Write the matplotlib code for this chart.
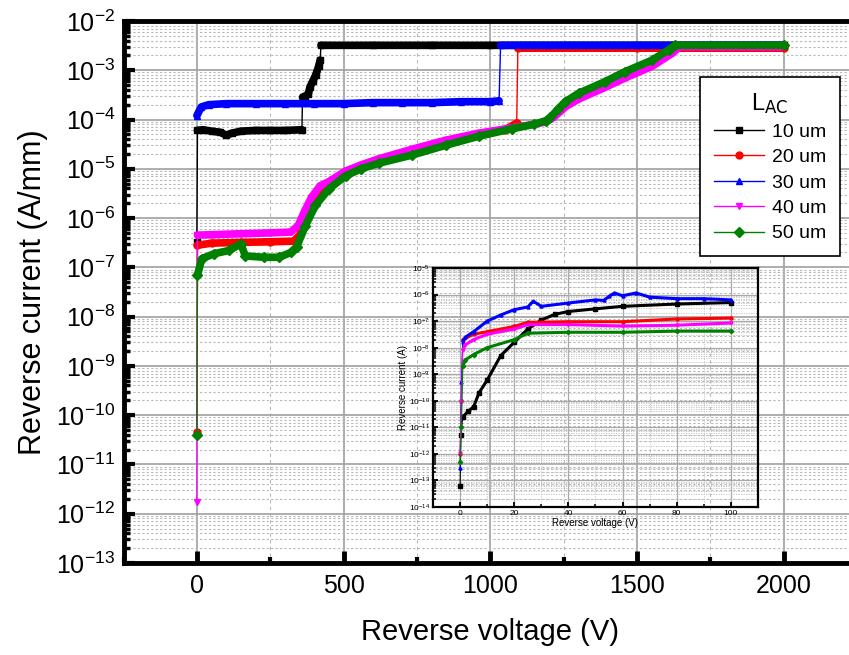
import numpy as np
import matplotlib
matplotlib.use('Agg')
import matplotlib.pyplot as plt
from matplotlib.ticker import LogLocator, MultipleLocator, NullFormatter

plt.rcParams['font.family'] = ['Liberation Sans', 'DejaVu Sans']
plt.rcParams['mathtext.default'] = 'regular'

# ---------------- main plot data (V, A/mm) ----------------
v_10 = [0, 2, 20, 50, 80, 100, 120, 150, 200, 250, 300, 358, 360, 370, 380, 385,
        395, 405, 415, 420, 423, 600, 800, 1000, 1500, 2000]
i_10 = [3.2e-7, 6e-5, 6.2e-5, 5.8e-5, 5.5e-5, 4.8e-5, 5.3e-5, 5.8e-5, 6e-5, 6e-5, 6e-5, 6.2e-5,
        2.8e-4, 3.0e-4, 3.3e-4, 4.5e-4, 6e-4, 8e-4, 1.2e-3, 1.6e-3, 3.2e-3, 3.2e-3,
        3.2e-3, 3.2e-3, 3.2e-3, 3.2e-3]

v_20 = [0, 2, 50, 150, 250, 330, 350, 370, 404, 450, 507, 560, 621, 734, 848, 962,
        1050, 1090, 1094, 1500, 2000]
i_20 = [4.5e-11, 2.8e-7, 3.1e-7, 3.2e-7, 3.3e-7, 3.4e-7, 4.5e-7, 9e-7, 2.1e-6, 4.3e-6, 8e-6,
        1.1e-5, 1.4e-5, 2e-5, 3.1e-5, 4.7e-5, 6.2e-5, 8.5e-5, 2.8e-3, 2.8e-3, 2.8e-3]

v_30 = [0, 15, 40, 100, 200, 300, 400, 500, 600, 700, 800, 900, 1000, 1030, 1035,
        1200, 1500, 1800, 2000]
i_30 = [1.2e-4, 1.8e-4, 2.0e-4, 2.1e-4, 2.1e-4, 2.1e-4, 2.1e-4, 2.1e-4, 2.2e-4, 2.2e-4,
        2.2e-4, 2.3e-4, 2.3e-4, 2.4e-4, 3.2e-3, 3.2e-3, 3.2e-3, 3.2e-3, 3.2e-3]

v_40 = [0, 2, 50, 150, 250, 320, 345, 365, 390, 420, 450, 507, 560, 621, 734, 848, 962,
        1075, 1150, 1190, 1216, 1256, 1301, 1392, 1460, 1551, 1620, 1645, 2000]
i_40 = [1.7e-12, 4.5e-7, 4.6e-7, 4.8e-7, 5e-7, 5.2e-7, 7e-7, 1.3e-6, 2.6e-6, 4.5e-6, 5.5e-6,
        9e-6, 1.2e-5, 1.6e-5, 2.5e-5, 3.8e-5, 5.3e-5, 6.8e-5, 8e-5, 9e-5, 1.1e-4, 1.8e-4,
        2.6e-4, 4.5e-4, 7e-4, 1.2e-3, 2.2e-3, 3.0e-3, 3.0e-3]

v_50 = [0, 2, 17, 60, 110, 150, 165, 230, 280, 320, 340, 370, 404, 450, 507, 560, 621,
        734, 848, 962, 1075, 1150, 1190, 1205, 1230, 1256, 1301, 1392, 1460, 1551, 1608, 1630, 2000]
i_50 = [4e-11, 7e-8, 1.5e-7, 1.9e-7, 2.2e-7, 3e-7, 1.7e-7, 1.6e-7, 1.6e-7, 2e-7, 2.6e-7,
        7e-7, 1.8e-6, 3.9e-6, 7.2e-6, 1e-5, 1.3e-5, 1.9e-5, 3e-5, 4.6e-5, 6.5e-5, 8e-5,
        9.5e-5, 1.1e-4, 1.6e-4, 2.3e-4, 3.4e-4, 5.9e-4, 9.4e-4, 1.6e-3, 2.6e-3, 3.2e-3, 3.2e-3]

# ---------------- inset data (V, A) ----------------
vi_10 = [0, 0.3, 1, 3, 5, 7, 10, 15, 20, 25, 30, 35, 40, 50, 60, 80, 100]
ii_10 = [6e-14, 5e-12, 2.5e-11, 4e-11, 6e-11, 2e-10, 6e-10, 5e-9, 1.6e-8, 5e-8, 1.1e-7,
         1.8e-7, 2.3e-7, 2.9e-7, 3.6e-7, 4.4e-7, 5e-7]
vi_20 = [0, 0.5, 1, 5, 10, 20, 25, 40, 60, 80, 100]
ii_20 = [1e-12, 1e-10, 2e-8, 3.2e-8, 4e-8, 6.3e-8, 9e-8, 9.5e-8, 9.5e-8, 1.2e-7, 1.3e-7]
vi_30 = [0, 0.5, 1, 2, 5, 10, 15, 20, 25, 27, 30, 40, 50, 53, 55, 57, 60, 65, 70, 80, 90, 100]
ii_30 = [3e-13, 5e-10, 1.7e-8, 2.5e-8, 4e-8, 1e-7, 1.7e-7, 2.7e-7, 3.4e-7, 5.6e-7, 3.6e-7,
         4.8e-7, 6.3e-7, 6e-7, 8.5e-7, 1.15e-6, 9e-7, 1.15e-6, 8e-7, 7e-7, 7e-7, 6.3e-7]
vi_40 = [0, 0.5, 1, 2, 5, 10, 20, 25, 40, 60, 80, 100]
ii_40 = [1.1e-12, 1e-10, 8.5e-9, 1.3e-8, 2e-8, 3.2e-8, 5e-8, 7.4e-8, 7.4e-8, 6.5e-8, 7e-8, 8.5e-8]
vi_50 = [0, 0.5, 1, 2, 5, 10, 20, 25, 40, 60, 80, 100]
ii_50 = [5e-13, 1e-11, 2e-9, 3.5e-9, 5.5e-9, 1e-8, 2e-8, 3.5e-8, 3.8e-8, 3.8e-8, 4.2e-8, 4.2e-8]

labels = ['10 um', '20 um', '30 um', '40 um', '50 um']
colors = ['black', 'red', 'blue', 'magenta', 'green']
markers = ['s', 'o', '^', 'v', 'D']
main_v = [v_10, v_20, v_30, v_40, v_50]
main_i = [i_10, i_20, i_30, i_40, i_50]
ins_v = [vi_10, vi_20, vi_30, vi_40, vi_50]
ins_i = [ii_10, ii_20, ii_30, ii_40, ii_50]


def band(v, i, slope=0.05, min_dv=2):
    # thick trace (dense markers) along slowly varying parts, break at jumps
    v = np.asarray(v, float)
    i = np.asarray(i, float)
    xs, ys = [v[0]], [i[0]]
    for k in range(1, len(v)):
        dv = v[k] - v[k - 1]
        dl = abs(np.log10(i[k] / i[k - 1]))
        if dv < min_dv or dl / dv > slope:
            xs.append(np.nan)
            ys.append(np.nan)
        xs.append(v[k])
        ys.append(i[k])
    return xs, ys


fig = plt.figure(figsize=(8.49, 6.55), dpi=100)
ax = fig.add_axes([0.1455, 0.1405, 0.864, 0.8275])
ax.set_yscale('log')

for v, i, c, m, lab in zip(main_v, main_i, colors, markers, labels):
    ax.plot(v, i, color=c, lw=1.0, marker=m, ms=5, label=lab, zorder=3)
    bx, by = band(v, i)
    ax.plot(bx, by, color=c, lw=5.5, solid_capstyle='round', zorder=3)

ax.set_xlim(-250, 2250)
ax.set_ylim(1e-13, 1e-2)
ax.xaxis.set_major_locator(MultipleLocator(500))
ax.xaxis.set_minor_locator(MultipleLocator(250))
ax.yaxis.set_major_locator(LogLocator(base=10, numticks=20))
ax.yaxis.set_minor_locator(LogLocator(base=10, subs=np.arange(2, 10), numticks=20))
ax.yaxis.set_minor_formatter(NullFormatter())

ax.grid(True, which='major', color='#a0a0a0', lw=1.2, ls='-', zorder=0)
ax.grid(True, which='minor', axis='y', color='#b8b8b8', lw=0.8, ls=(0, (2, 2)), zorder=0)
ax.grid(True, which='minor', axis='x', color='#b8b8b8', lw=0.8, ls=(0, (3, 3)), zorder=0)
ax.set_axisbelow(True)

ax.tick_params(axis='both', which='major', direction='in', labelsize=18)
ax.tick_params(axis='y', which='major', length=8, width=3, pad=6)
ax.tick_params(axis='y', which='minor', direction='in', length=4, width=2.5)
ax.tick_params(axis='x', which='major', length=9, width=3.5, pad=8)
ax.tick_params(axis='x', which='minor', direction='in', length=4, width=3)
for side in ['left', 'bottom', 'top']:
    ax.spines[side].set_linewidth(3.5)
ax.spines['right'].set_visible(False)

ax.set_xlabel('Reverse voltage (V)', fontsize=21, labelpad=14)
ax.set_ylabel('Reverse current (A/mm)', fontsize=22, labelpad=6)

leg = ax.legend(loc='upper left', bbox_to_anchor=(700 / 849, 1 - 77 / 655),
                bbox_transform=fig.transFigure, borderaxespad=0,
                title=r'L$_{\mathrm{AC}}$',
                fontsize=14, title_fontsize=17, fancybox=False, framealpha=1,
                edgecolor='black', handlelength=2.6, borderpad=0.7,
                labelspacing=0.4, handletextpad=0.4)
leg.get_frame().set_linewidth(1.2)

# ---------------- inset ----------------
axi = fig.add_axes([433 / 849, 1 - 507 / 655, 325 / 849, 239 / 655])
axi.set_facecolor('none')
axi.set_yscale('log')
for v, i, c, m in zip(ins_v, ins_i, colors, markers):
    axi.plot(v, i, color=c, lw=0.8, marker=m, ms=2.2, zorder=3)
    bx, by = band(v, i, slope=0.5, min_dv=0)
    axi.plot(bx, by, color=c, lw=2.2, solid_capstyle='round', zorder=3)

axi.set_xlim(-10, 110)
axi.set_ylim(1e-14, 1e-5)
axi.xaxis.set_major_locator(MultipleLocator(20))
axi.xaxis.set_minor_locator(MultipleLocator(10))
axi.yaxis.set_major_locator(LogLocator(base=10, numticks=20))
axi.yaxis.set_minor_locator(LogLocator(base=10, subs=np.arange(2, 10), numticks=20))
axi.yaxis.set_minor_formatter(NullFormatter())
axi.grid(True, which='major', color='#a8a8a8', lw=0.9, ls='-', zorder=0)
axi.grid(True, which='minor', color='#c0c0c0', lw=0.6, ls=(0, (1.5, 1.5)), zorder=0)
axi.tick_params(axis='both', which='major', direction='in', labelsize=6, length=3.5, width=1.3, pad=2)
axi.tick_params(axis='both', which='minor', direction='in', length=2, width=1.1)
for side in axi.spines:
    axi.spines[side].set_linewidth(1.6)
axi.set_xlabel('Reverse voltage (V)', fontsize=7, labelpad=1)
axi.set_ylabel('Reverse current (A)', fontsize=7, labelpad=1)

fig.savefig('out.png', dpi=100, facecolor='white')
